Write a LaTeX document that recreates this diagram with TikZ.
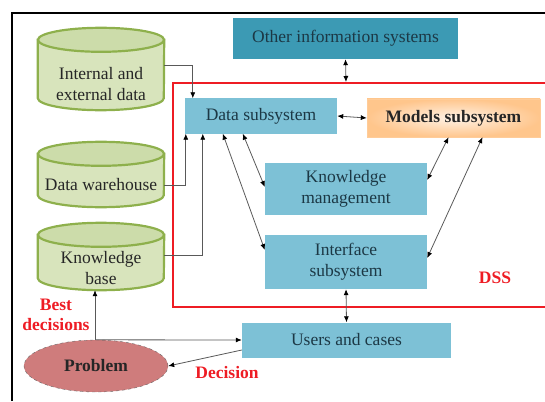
\documentclass[tikz,border=0pt]{standalone}
\usepackage{fontspec}
\setmainfont{Liberation Serif}
\usetikzlibrary{shapes.geometric,arrows.meta}
\definecolor{tealbox}{HTML}{3C9AB4}
\definecolor{boxblue}{HTML}{7DC1D6}
\definecolor{boxtxt}{HTML}{1C3845}
\definecolor{cylfill}{HTML}{D8E4BC}
\definecolor{cyltop}{HTML}{CCDCAA}
\definecolor{cylline}{HTML}{8EB04C}
\definecolor{dssred}{HTML}{EE1C24}
\definecolor{probfill}{HTML}{CF7C7C}
% drum shape around a body node
\newcommand\drum[1]{%
  \filldraw[drumline,fill=cylfill] (#1.north west) -- ([yshift=12pt]#1.south west)
    arc[start angle=180,end angle=360,x radius=63pt,y radius=12pt] -- (#1.north east) -- cycle;
  \filldraw[drumline,fill=cyltop] (#1.north) ellipse[x radius=63pt,y radius=12pt];}
\begin{document}
\begin{tikzpicture}[x=1pt,y=-1pt,
  txt/.style={font=\fontsize{17.5}{21}\selectfont,align=center,text=boxtxt,inner sep=0pt},
  sub/.style={txt,fill=boxblue},
  store/.style={inner sep=0pt,minimum width=126pt},
  drumline/.style={draw=cylline,line width=2.2pt},
  redlbl/.style={font=\fontsize{17.5}{20}\selectfont\bfseries,text=dssred,align=center},
  arr/.style={draw=black!65,line width=0.8pt,-{Latex[length=6pt,width=5pt,black]}},
  darr/.style={arr,{Latex[length=6pt,width=5pt,black]}-{Latex[length=6pt,width=5pt,black]}}]
\useasboundingbox (0,0) rectangle (545,401);
\clip (0,0) rectangle (545,401);
%frame
\draw[line width=2.5pt] (12,401)--(12,13)--(545,13);
%dss border
\draw[dssred,line width=2.8pt] (173,83) rectangle (570,307);
\node[redlbl] (dss) at (495,278) {DSS};
\coordinate (dsstop) at (346,82);
%boxes
\node[txt,fill=tealbox,minimum width=225pt,minimum height=41pt] (other) at (345.5,38.5) {Other information systems};
\node[sub,minimum width=152pt,minimum height=35pt] (data) at (261,116) {Data subsystem};
\node[txt,font=\fontsize{17.5}{21}\selectfont\bfseries,text=black!85,draw=orange!40,
  inner color=orange!10,outer color=orange!45,minimum width=173pt,minimum height=38pt] (models) at (453.5,118) {Models subsystem};
\node[sub,minimum width=162pt,minimum height=52pt] (km) at (346,189) {Knowledge\\management};
\node[sub,minimum width=162pt,minimum height=54pt] (iface) at (346,262) {Interface\\subsystem};
\node[sub,minimum width=209pt,minimum height=35pt] (users) at (346.5,340) {Users and cases};
%stores
\node[store,minimum height=70pt] (int) at (101,75) {};
\node[store,minimum height=53pt] (dw) at (101,180.5) {};
\node[store,minimum height=55pt] (kb) at (101,262.5) {};
\drum{int}
\drum{dw}
\drum{kb}
\node[txt,text=black!85] (intt) at (101,84) {Internal and\\external data};
\node[txt,text=black!85] (dwt) at (101,185) {Data warehouse};
\node[txt,text=black!85] (kbt) at (101,268) {Knowledge\\base};
\node[txt,ellipse,font=\fontsize{17.5}{21}\selectfont\bfseries,text=black!85,fill=probfill,
  draw=black!60,dashed,minimum width=144pt,minimum height=52pt] (prob) at (96,366) {Problem};
%arrows
\draw[arr] ([yshift=10pt]int.east) -| ([xshift=8pt]data.north west);
\draw[arr] ([yshift=-4.5pt]dw.east) -| ([xshift=1pt]data.south west);
\draw[arr] ([yshift=7.5pt]kb.east) -| ([xshift=18pt]data.south west);
\draw[darr] ([xshift=38pt]data.south west) -- ([yshift=12pt]iface.west);
\draw[darr] ([xshift=58pt]data.south west) -- ([yshift=2pt]km.west);
\draw[darr] (data.east) -- (models.west);
\draw[darr] ([xshift=-5pt]models.south) -- ([yshift=9pt]km.east);
\draw[darr] ([xshift=29pt]models.south) -- ([yshift=4pt]iface.east);
\draw[darr] (other.south) -- (dsstop);
\draw[darr] (iface.south) -- (users.north);
\draw[arr] ([xshift=-1pt]prob.north) -- ([xshift=-1pt]prob.north |- kb.south);
\draw[arr] ([xshift=-1pt]prob.north) -- (users.west);
\draw[arr] ([yshift=-10pt]users.west) -- (prob.east);
%labels
\node[redlbl] (best) at (56,315) {Best\\decisions};
\node[redlbl] (dec) at (227,373) {Decision};
\end{tikzpicture}
\end{document}
